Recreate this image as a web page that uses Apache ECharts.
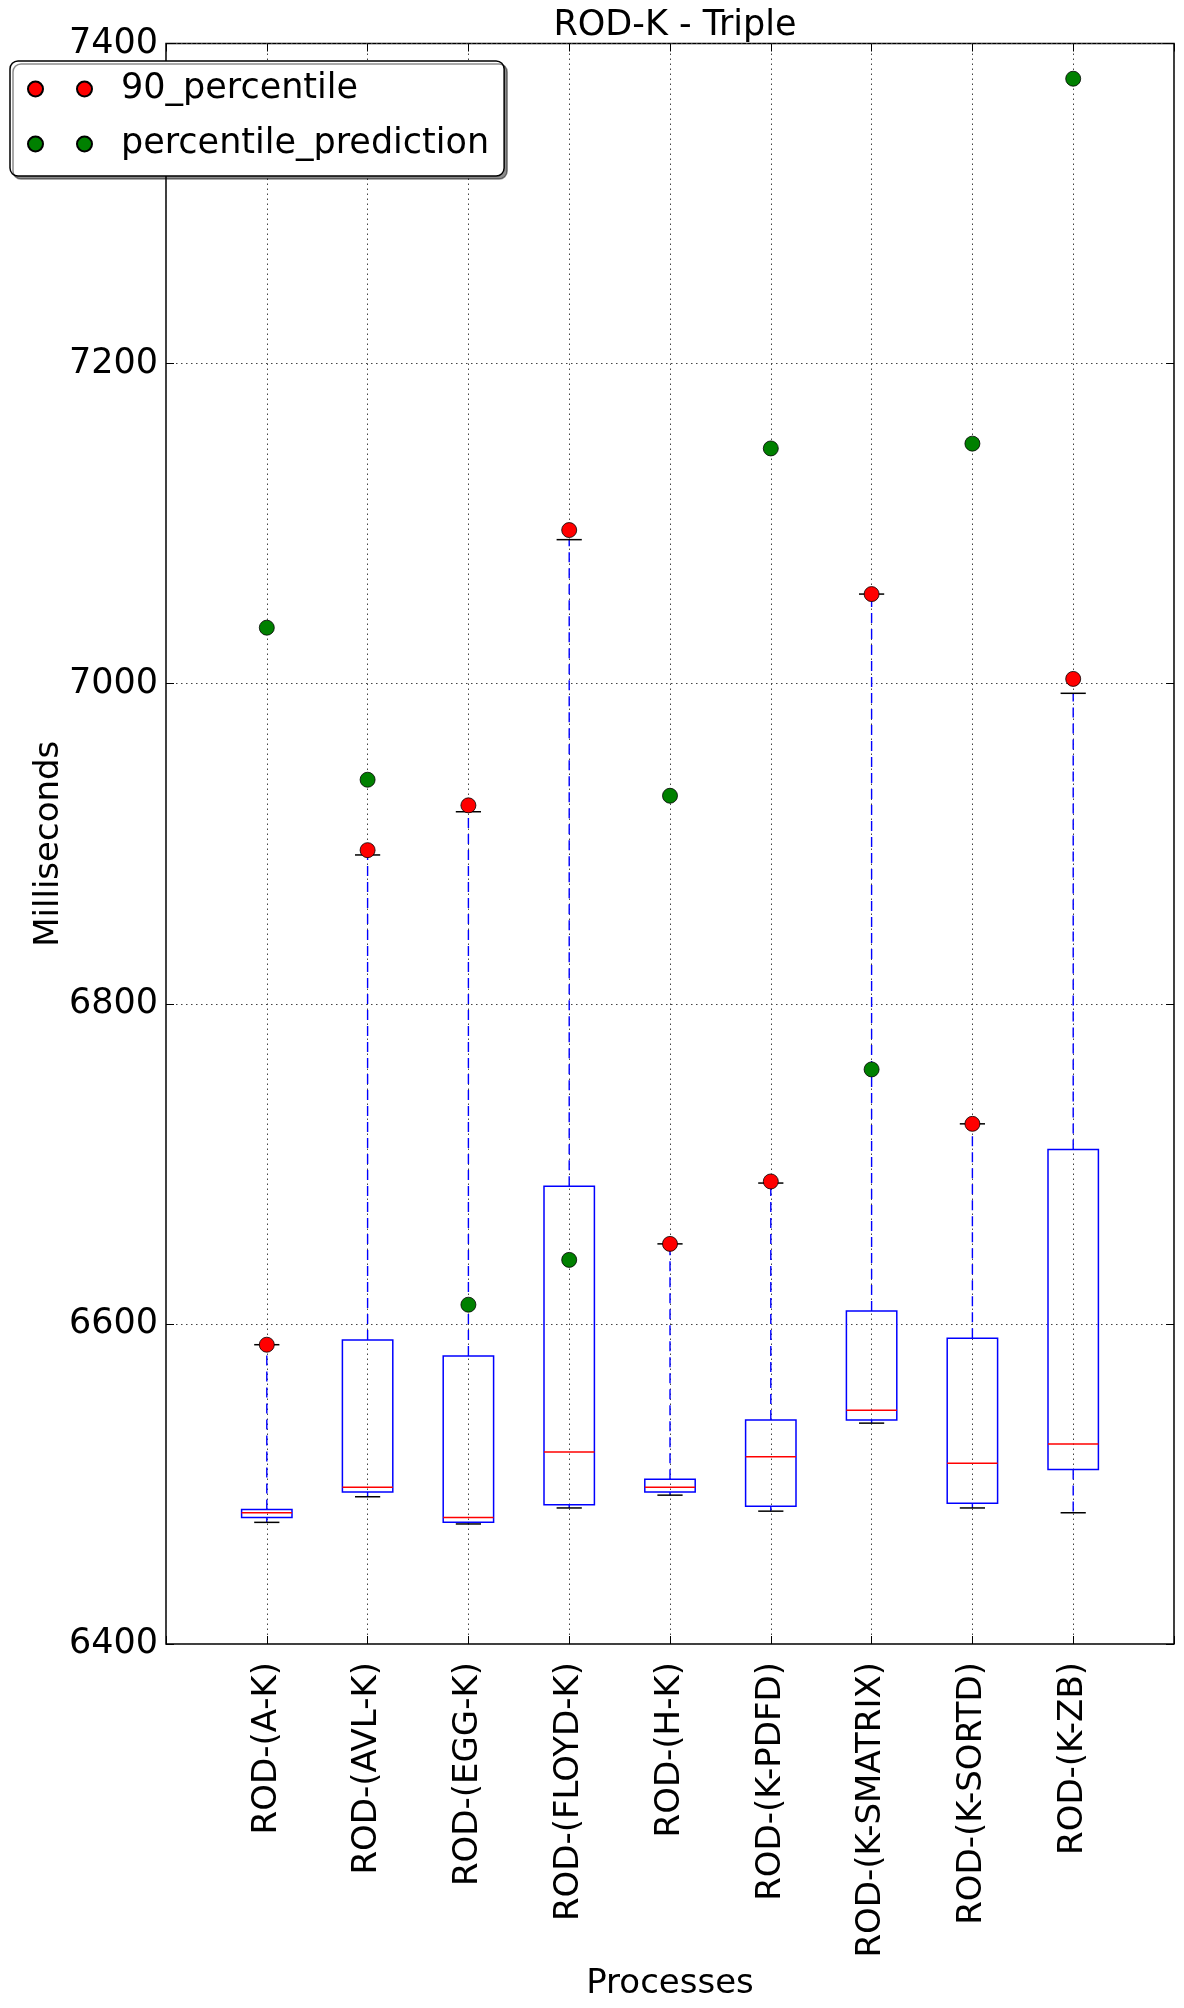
<!DOCTYPE html>
<html>
<head>
<meta charset="utf-8">
<script src="https://cdn.jsdelivr.net/npm/echarts@6/dist/echarts.min.js"></script>
<style>
html,body{margin:0;padding:0;background:#fff;}
#chart{width:1184px;height:2008px;}
</style>
</head>
<body>
<div id="chart"></div>
<script>
const categories = ['ROD-(A-K)','ROD-(AVL-K)','ROD-(EGG-K)','ROD-(FLOYD-K)','ROD-(H-K)','ROD-(K-PDFD)','ROD-(K-SMATRIX)','ROD-(K-SORTD)','ROD-(K-ZB)'];
const whiskerLow  = [6476, 6492, 6475, 6485, 6493, 6483, 6538, 6485, 6482];
const q1          = [6479, 6495, 6476, 6487, 6495, 6486, 6540, 6488, 6509];
const median      = [6482, 6498, 6479, 6520, 6498, 6517, 6546, 6513, 6525];
const q3          = [6484, 6590, 6580, 6686, 6503, 6540, 6608, 6591, 6709];
const whiskerHigh = [6587, 6893, 6920, 7090, 6650, 6688, 7056, 6725, 6994];
const p90         = [6587, 6896, 6924, 7096, 6650, 6689, 7056, 6725, 7003];
const prediction  = [7035, 6940, 6612, 6640, 6930, 7147, 6759, 7150, 7378];
const yTicks = {min: 6400, max: 7400, interval: 200};

const FONT = 'DejaVu Sans';
const xCats = [''].concat(categories, ['']);
const boxData = categories.map((c, i) => [i + 1, whiskerLow[i], q1[i], median[i], q3[i], whiskerHigh[i]]);
const p90Data = categories.map((c, i) => [i + 1, p90[i]]);
const predData = categories.map((c, i) => [i + 1, prediction[i]]);

function renderBox(params, api) {
  const x = api.value(0);
  const pLow = api.coord([x, api.value(1)]);
  const pQ1 = api.coord([x, api.value(2)]);
  const pMed = api.coord([x, api.value(3)]);
  const pQ3 = api.coord([x, api.value(4)]);
  const pHigh = api.coord([x, api.value(5)]);
  const band = Math.abs(api.coord([x + 1, api.value(1)])[0] - pLow[0]);
  const bw = band * 0.5, cw = band * 0.25;
  const cx = pLow[0];
  const dash = {stroke: '#0000ff', lineWidth: 1.4, lineDash: [10, 6], fill: null};
  const cap = {stroke: '#000', lineWidth: 1.5, fill: null};
  return {
    type: 'group',
    children: [
      {type: 'line', shape: {x1: cx, y1: pQ3[1], x2: cx, y2: pHigh[1]}, style: dash},
      {type: 'line', shape: {x1: cx, y1: pQ1[1], x2: cx, y2: pLow[1]}, style: dash},
      {type: 'line', shape: {x1: cx - cw / 2, y1: pHigh[1], x2: cx + cw / 2, y2: pHigh[1]}, style: cap},
      {type: 'line', shape: {x1: cx - cw / 2, y1: pLow[1], x2: cx + cw / 2, y2: pLow[1]}, style: cap},
      {type: 'rect', shape: {x: cx - bw / 2, y: pQ3[1], width: bw, height: pQ1[1] - pQ3[1]},
        style: {fill: 'none', stroke: '#0000ff', lineWidth: 1.5}},
      {type: 'line', shape: {x1: cx - bw / 2, y1: pMed[1], x2: cx + bw / 2, y2: pMed[1]},
        style: {stroke: '#ff0000', lineWidth: 1.5, fill: null}}
    ]
  };
}

const twoDots = 'path://M0,7.5A7.5,7.5,0,1,1,15,7.5A7.5,7.5,0,1,1,0,7.5Z M49,7.5A7.5,7.5,0,1,1,64,7.5A7.5,7.5,0,1,1,49,7.5Z';
const gridLine = {show: true, lineStyle: {color: '#444', width: 1, type: [1.5, 3.5]}};

const chart = echarts.init(document.getElementById('chart'), null, {renderer: 'canvas'});
chart.setOption({
  animation: false,
  backgroundColor: '#fff',
  textStyle: {fontFamily: FONT, color: '#000'},
  title: {
    text: 'ROD-K - Triple',
    left: 670, textAlign: 'center', top: 3,
    textStyle: {fontFamily: FONT, fontSize: 35, fontWeight: 'normal', color: '#000'}
  },
  legend: {
    left: 10, top: 61,
    orient: 'vertical',
    data: [{name: '90_percentile', icon: twoDots}, {name: 'percentile_prediction', icon: twoDots}],
    itemWidth: 64, itemHeight: 15, itemGap: 15,
    padding: [8, 15, 12, 17],
    backgroundColor: '#fff', borderColor: '#000', borderWidth: 1.5, borderRadius: 8,
    shadowColor: 'rgba(0,0,0,0.45)', shadowOffsetX: 3, shadowOffsetY: 3, shadowBlur: 0,
    textStyle: {fontFamily: FONT, fontSize: 35, color: '#000', lineHeight: 40, padding: [0, 0, 0, 24]}
  },
  grid: {left: 166, right: 10, top: 43.5, bottom: 364, show: true, borderColor: '#000', borderWidth: 1.5, backgroundColor: 'transparent'},
  xAxis: [{
    type: 'category', data: xCats, boundaryGap: false,
    name: 'Processes', nameLocation: 'middle', nameGap: 323,
    nameTextStyle: {fontFamily: FONT, fontSize: 34, color: '#000'},
    axisLine: {show: false},
    axisTick: {show: true, inside: true, length: 8, interval: 0, lineStyle: {color: '#000', width: 1}},
    axisLabel: {rotate: 90, interval: 0, margin: 18, fontFamily: FONT, fontSize: 34, color: '#000'},
    splitLine: Object.assign({interval: 0}, gridLine)
  }, {
    type: 'category', data: xCats, boundaryGap: false, position: 'top',
    axisLine: {show: false}, axisLabel: {show: false}, splitLine: {show: false},
    axisTick: {show: true, inside: true, length: 8, interval: 0, lineStyle: {color: '#000', width: 1}}
  }],
  yAxis: [{
    type: 'value', min: yTicks.min, max: yTicks.max, interval: yTicks.interval,
    name: 'Milliseconds', nameLocation: 'middle', nameGap: 100, nameRotate: 90, nameMoveOverlap: false,
    nameTextStyle: {fontFamily: FONT, fontSize: 34, color: '#000'},
    axisLine: {show: false},
    axisTick: {show: true, inside: true, length: 8, lineStyle: {color: '#000', width: 1}},
    axisLabel: {margin: 8, fontFamily: FONT, fontSize: 35, color: '#000', formatter: v => String(v)},
    splitLine: gridLine
  }, {
    type: 'value', min: yTicks.min, max: yTicks.max, interval: yTicks.interval, position: 'right',
    axisLine: {show: false}, axisLabel: {show: false}, splitLine: {show: false},
    axisTick: {show: true, inside: true, length: 8, lineStyle: {color: '#000', width: 1}}
  }],
  series: [
    {
      type: 'custom', name: 'box', renderItem: renderBox, data: boxData,
      encode: {x: 0, y: [1, 2, 3, 4, 5]}, z: 2, silent: true
    },
    {
      type: 'scatter', name: '90_percentile', data: p90Data, symbol: 'circle', symbolSize: 15, z: 5,
      itemStyle: {color: '#ff0000', borderColor: '#000', borderWidth: 0.8, opacity: 1}
    },
    {
      type: 'scatter', name: 'percentile_prediction', data: predData, symbol: 'circle', symbolSize: 15, z: 5,
      itemStyle: {color: '#008000', borderColor: '#000', borderWidth: 0.8, opacity: 1}
    }
  ]
});
</script>
</body>
</html>
